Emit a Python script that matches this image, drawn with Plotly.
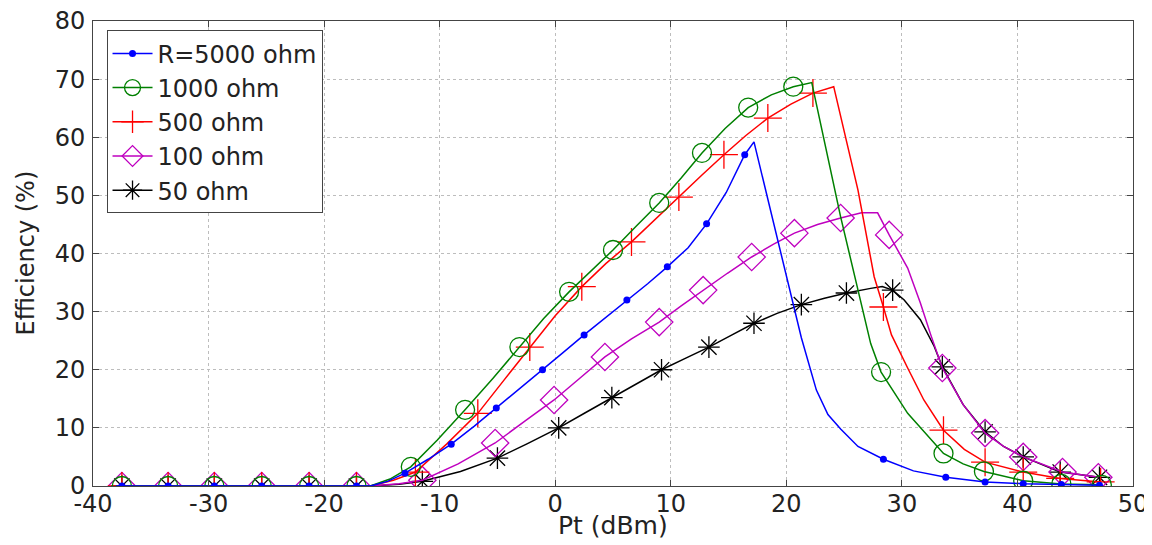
import plotly.graph_objects as go

# ---------------- data ----------------
series_names = ["R=5000 ohm", "1000 ohm", "500 ohm", "100 ohm", "50 ohm"]

zero_x = [-37.5, -33.5, -29.5, -25.4, -21.3, -17.2]

# R = 5000 ohm (blue)
blue_x = [-38, -16, -14.5, -13, -11, -9, -7, -5.1, -3, -1.1, 0.7, 2.5, 4.4, 6.2, 8, 9.7,
          11.5, 13.1, 14.8, 16.4, 17.2, 21.3, 22.6, 23.6, 24.7, 26.2, 28.4, 31, 33.8,
          37.2, 40.5, 43.8, 47.1]
blue_y = [0, 0, 0.8, 2.2, 4.6, 7.2, 10.3, 13.4, 16.8, 20.0, 23.0, 26.0, 29.0, 32.0, 34.8, 37.7,
          41.0, 45.1, 50.5, 57.0, 59.2, 25.5, 16.5, 12.3, 9.8, 6.8, 4.6, 2.6, 1.5,
          0.7, 0.4, 0.25, 0.15]
blue_mx = zero_x + [-13, -9, -5.1, -1.1, 2.5, 6.2, 9.7, 13.1, 16.4, 28.4, 33.8, 37.2, 40.5, 43.8, 47.1]
blue_my = [0] * 6 + [2.2, 7.2, 13.4, 20.0, 26.0, 32.0, 37.7, 45.1, 57.0, 4.6, 1.5, 0.7, 0.4, 0.25, 0.15]

# 1000 ohm (green)
green_x = [-38, -16, -14.3, -12.5, -10.2, -7.8, -5.4, -3.1, -1, 1.2, 3.1, 5.0, 7, 9.0, 10.9,
           12.7, 14.7, 16.7, 18.7, 20.6, 22.2, 24.7, 27.3, 28.2, 30.5, 33.6, 35.3, 37.1,
           40.5, 43.8, 47.3]
green_y = [0, 0, 1.2, 3.3, 7.9, 13.1, 18.5, 23.9, 28.8, 33.4, 37.0, 40.6, 44.7, 48.7, 53.0,
           57.3, 61.5, 65.1, 67.3, 68.7, 69.4, 46.3, 24.5, 19.6, 12.5, 5.6, 3.8, 2.5,
           0.9, 0.35, 0.2]
green_mx = zero_x + [-12.5, -7.8, -3.1, 1.2, 5.0, 9.0, 12.7, 16.7, 20.6, 28.2, 33.6, 37.1, 40.5, 43.8, 47.3]
green_my = [0] * 6 + [3.3, 13.1, 23.9, 33.4, 40.6, 48.7, 57.3, 65.1, 68.7, 19.6, 5.6, 2.5, 0.9, 0.35, 0.2]

# 500 ohm (red)
red_x = [-38, -16, -14, -12.1, -9.4, -6.7, -4.4, -2.2, 0, 2.3, 4.4, 6.6, 8.7, 10.7, 12.7,
         14.6, 16.5, 18.4, 20.4, 22.3, 24.1, 26.2, 27.6, 28.4, 29.1, 30.5, 31.9, 33.6,
         35.4, 37.2, 40.5, 43.7, 47.2]
red_y = [0, 0, 1.0, 2.4, 7.2, 12.5, 18.3, 23.9, 29.3, 34.3, 38.3, 42.0, 46.0, 49.7, 53.5,
         57.0, 60.3, 63.3, 65.7, 67.6, 68.7, 50.9, 36.0, 30.8, 26.0, 20.3, 14.8, 9.6,
         6.3, 4.1, 2.4, 1.3, 0.7]
red_mx = zero_x + [-12.1, -6.7, -2.2, 2.3, 6.6, 10.7, 14.6, 18.4, 22.3, 28.4, 33.6, 37.2, 40.5, 43.7, 47.2]
red_my = [0] * 6 + [2.4, 12.5, 23.9, 34.3, 42.0, 49.7, 57.0, 63.3, 67.6, 30.8, 9.6, 4.1, 2.4, 1.3, 0.7]

# 100 ohm (magenta)
mag_x = [-38, -16, -13.5, -11.5, -8.4, -5.2, -2.6, -0.1, 2.1, 4.3, 6.6, 9.0, 10.9, 12.8,
         14.9, 17.0, 18.9, 20.7, 22.7, 24.7, 26.5, 27.9, 28.9, 30.5, 31.6, 32.5, 33.5,
         35.3, 37.2, 38.8, 40.5, 43.9, 47.0]
mag_y = [0, 0, 0.4, 1.0, 3.8, 7.4, 11.2, 14.8, 18.5, 22.2, 25.3, 28.2, 31.0, 33.7,
         36.6, 39.4, 41.6, 43.5, 45.0, 46.1, 47.0, 47.0, 43.2, 37.5, 31.5, 26.0, 20.3,
         14.0, 9.1, 6.8, 5.0, 2.4, 1.5]
mag_mx = zero_x + [-11.5, -5.2, -0.1, 4.3, 9.0, 12.8, 17.0, 20.7, 24.7, 28.9, 33.5, 37.2, 40.5, 43.9, 47.0]
mag_my = [0] * 6 + [1.0, 7.4, 14.8, 22.2, 28.2, 33.7, 39.4, 43.5, 46.1, 43.2, 20.3, 9.1, 5.0, 2.4, 1.5]

# 50 ohm (black)
blk_x = [-38, -16, -13.5, -11.5, -8.2, -5.0, -2.4, 0.3, 2.6, 4.9, 7.1, 9.2, 11.3, 13.3,
         15.3, 17.2, 19.2, 21.3, 23.3, 25.2, 27.3, 28.3, 29.2, 30.2, 31.6, 32.8, 33.5,
         35.3, 37.2, 38.8, 40.5, 43.7, 47.1]
blk_y = [0, 0, 0.3, 0.8, 2.5, 4.8, 7.3, 10.0, 12.6, 15.2, 17.7, 20.0, 22.0, 23.9,
         26.0, 28.0, 29.7, 31.2, 32.3, 33.2, 34.0, 34.3, 33.7, 32.0, 28.6, 24.0, 20.5,
         14.0, 9.3, 6.8, 5.0, 2.4, 1.5]
blk_mx = zero_x + [-11.5, -5.0, 0.3, 4.9, 9.2, 13.3, 17.2, 21.3, 25.2, 29.2, 33.5, 37.2, 40.5, 43.7, 47.1]
blk_my = [0] * 6 + [0.8, 4.8, 10.0, 15.2, 20.0, 23.9, 28.0, 31.2, 33.2, 33.7, 20.5, 9.3, 5.0, 2.4, 1.5]

x_ticks = [-40, -30, -20, -10, 0, 10, 20, 30, 40, 50]
y_ticks = [0, 10, 20, 30, 40, 50, 60, 70, 80]
x_title = "Pt (dBm)"
y_title = "Efficiency (%)"

# ---------------- styles ----------------
styles = [
    dict(color="#0000ff", symbol="circle", size=7, filled=True),
    dict(color="#008000", symbol="circle-open", size=19, filled=False),
    dict(color="#ff0000", symbol="cross-thin-open", size=20, filled=False),
    dict(color="#bf00bf", symbol="diamond-open", size=21, filled=False),
    dict(color="#000000", symbol="asterisk-open", size=18, filled=False),
]
curves = [(blue_x, blue_y, blue_mx, blue_my),
          (green_x, green_y, green_mx, green_my),
          (red_x, red_y, red_mx, red_my),
          (mag_x, mag_y, mag_mx, mag_my),
          (blk_x, blk_y, blk_mx, blk_my)]

FONT = "DejaVu Sans"
fig = go.Figure()

order = [4, 3, 2, 1, 0]  # draw blue last (on top)
for i in order:
    cx, cy, mx, my = curves[i]
    st = styles[i]
    mk = dict(symbol=st["symbol"], size=st["size"], color=st["color"],
              line=dict(color=st["color"], width=0 if st["filled"] else 1.3))
    fig.add_trace(go.Scatter(x=cx, y=cy, mode="lines", line=dict(color=st["color"], width=1.5),
                             showlegend=False, hoverinfo="skip"))
    fig.add_trace(go.Scatter(x=mx, y=my, mode="markers", marker=mk, showlegend=False))

for i in range(5):
    st = styles[i]
    mk = dict(symbol=st["symbol"], size=st["size"], color=st["color"],
              line=dict(color=st["color"], width=0 if st["filled"] else 1.3))
    fig.add_trace(go.Scatter(x=[None], y=[None], mode="lines+markers", name=series_names[i],
                             line=dict(color=st["color"], width=1.5), marker=mk))

axis_common = dict(
    showline=True, linecolor="#444444", linewidth=1, mirror="ticks",
    ticks="inside", ticklen=6, tickcolor="#444444",
    showgrid=True, gridcolor="#bdbdbd", griddash="dot", gridwidth=1.3,
    zeroline=False, tickfont=dict(family=FONT, size=24, color="#222222"),
    automargin=False, ticklabeloverflow="allow",
)

fig.update_layout(
    width=1144, height=537,
    margin=dict(l=85, r=19, t=13, b=59),
    paper_bgcolor="white", plot_bgcolor="white",
    font=dict(family=FONT, color="#222222"),
    xaxis=dict(range=[-40, 50], tickvals=x_ticks, ticktext=[str(v) for v in x_ticks],
               ticklabelstandoff=-4, **axis_common),
    yaxis=dict(range=[0, 80], tickvals=y_ticks, ticktext=[str(v) for v in y_ticks],
               ticklabelstandoff=2, **axis_common),
    legend=dict(x=0.013, y=0.98, xanchor="left", yanchor="top",
                bgcolor="white", bordercolor="#444444", borderwidth=1,
                font=dict(family=FONT, size=24, color="#222222"),
                tracegroupgap=0, itemwidth=40),
    annotations=[
        dict(text=x_title, xref="paper", yref="paper", x=0.5, y=0, yshift=-39,
             xanchor="center", yanchor="middle", showarrow=False,
             font=dict(family=FONT, size=25, color="#222222")),
        dict(text=y_title, xref="paper", yref="paper", x=0, y=0.5, xshift=-68,
             xanchor="center", yanchor="middle", textangle=-90, showarrow=False,
             font=dict(family=FONT, size=24, color="#222222")),
    ],
)

fig.write_html("out.html")
